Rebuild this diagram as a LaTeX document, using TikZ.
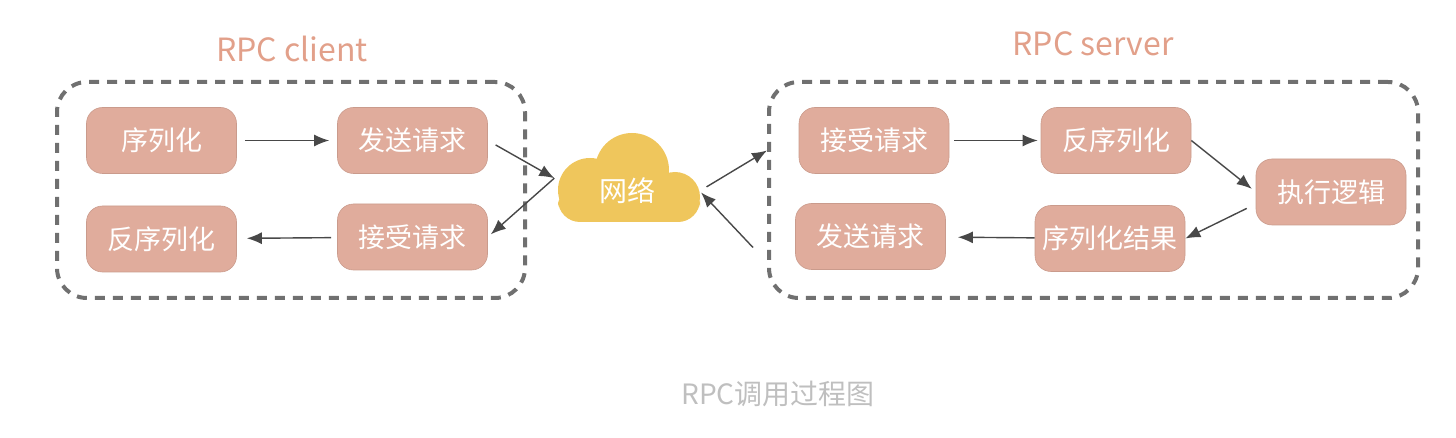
\documentclass[tikz,border=0pt]{standalone}
\usepackage{fontspec}
\setmainfont{Noto Sans CJK SC}
\usepackage{tikz}
\usetikzlibrary{arrows.meta, positioning}
\usepackage{xcolor}
\definecolor{boxpink}{RGB}{224,172,156}
\definecolor{titlepink}{RGB}{226,160,138}
\definecolor{cloudyellow}{RGB}{239,198,92}
\definecolor{dashgray}{RGB}{112,112,112}
\definecolor{arrowgray}{RGB}{72,72,72}
\tikzset{%
	stepbox/.style={
		fill=boxpink,
		draw=boxpink!90!black,
		line width=0.6pt,
		rounded corners=16pt,
		minimum width=150pt,
		minimum height=66pt,
		text=white,
		font=\fontsize{27}{30}\selectfont
	},
	groupbox/.style={
		draw=dashgray,
		line width=4pt,
		dash pattern=on 10pt off 8pt,
		rounded corners=30pt
	},
	flow/.style={
		draw=arrowgray,
		line width=1.4pt,
		-{Latex[length=15pt,width=12pt]}
	},
	grouptitle/.style={
		text=titlepink,
		font=\fontsize{32}{36}\selectfont
	},
}

\begin{document}
\begin{tikzpicture}[x=1pt,y=-1pt]
	\useasboundingbox (0,0) rectangle (1456,438);

	% Draw the two dashed groups
	\node[groupbox, minimum width=468pt, minimum height=216pt] (client) at (291,190) {};
	\node[groupbox, minimum width=649pt, minimum height=216pt] (server) at (1093.5,190) {};
	\node[grouptitle] (clienttitle) at (292,49) {RPC client};
	\node[grouptitle] (servertitle) at (1093,44) {RPC server};

	% Draw the client steps
	\node[stepbox] (cser) at (161.5,140.5) {序列化};
	\node[stepbox] (csend) at (412.5,140.5) {发送请求};
	\node[stepbox] (cdeser) at (161.5,239) {反序列化};
	\node[stepbox] (crecv) at (412.5,237) {接受请求};

	% Draw the server steps
	\node[stepbox] (srecv) at (874,140.5) {接受请求};
	\node[stepbox] (sdeser) at (1116,140.5) {反序列化};
	\node[stepbox] (sexec) at (1331,192) {执行逻辑};
	\node[stepbox] (sres) at (1110,238.5) {序列化结果};
	\node[stepbox] (ssend) at (870.5,236.5) {发送请求};

	% Draw the cloud
	\fill[cloudyellow] (590,190) circle (32);
	\fill[cloudyellow] (632,170) circle (37);
	\fill[cloudyellow] (675,197) circle (25);
	\fill[cloudyellow, rounded corners=22pt] (558,185) rectangle (700,222);
	\node[text=white, font=\fontsize{28}{32}\selectfont, minimum width=145pt, minimum height=74pt] (net) at (627,191) {网络};

	% Draw the arrows of the client
	\draw[flow, shorten <=8pt, shorten >=8pt] (cser) -- (csend);
	\draw[flow, shorten <=6pt, shorten >=10pt] (crecv) -- (cdeser);
	\draw[flow, shorten <=9pt] (csend.east) -- (net.170);
	\draw[flow, shorten >=4pt] (net.170) -- (crecv.east);

	% Draw the arrows to and from the server
	\draw[flow, shorten <=8pt] (net.east) -- ([yshift=-10pt]server.west |- srecv);
	\draw[flow, shorten >=2pt] ([xshift=-14pt,yshift=-11pt]server.west |- ssend) -- (net.east);

	% Draw the arrows of the server
	\draw[flow, shorten <=5pt, shorten >=3pt] (srecv) -- (sdeser);
	\draw[flow, shorten >=5pt] (sdeser.east) -- (sexec.west);
	\draw[flow, shorten <=10pt] ([yshift=-12pt]sexec.west) -- (sres.east);
	\draw[flow, shorten >=12pt] (sres) -- (ssend);

	% Caption
	\node[text=black!25, font=\fontsize{28}{32}\selectfont] (caption) at (778,394) {RPC调用过程图};
\end{tikzpicture}
\end{document}
